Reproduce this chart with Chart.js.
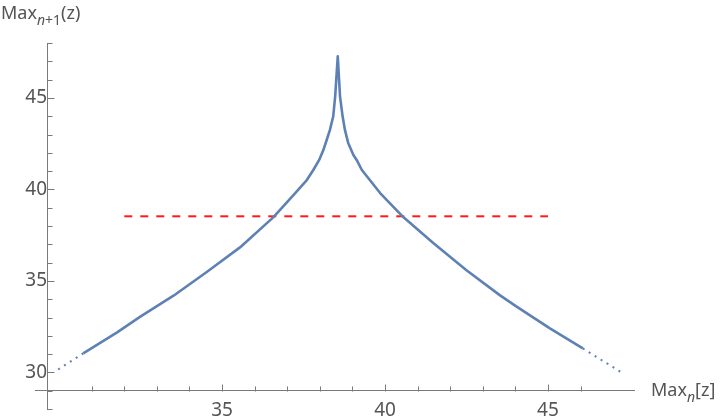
<!DOCTYPE html>
<html>
<head>
<meta charset="utf-8">
<script src="https://cdn.jsdelivr.net/npm/chart.js@4"></script>
<style>
  html, body { margin: 0; padding: 0; background: #fff; }
  canvas { display: block; }
</style>
</head>
<body>
<canvas id="mapChart" width="720" height="420"></canvas>
<script>
// successive maxima of z: Max_n on x, Max_{n+1} on y
const maxN = [29.97, 30.74, 31.78, 32.48, 33.51, 34.53, 35.55, 36.57, 37.19, 37.60, 37.80, 37.98,
  38.11, 38.21, 38.31, 38.41, 38.47, 38.55, 38.62, 38.70, 38.77, 38.87, 39.03, 39.13, 39.29,
  39.85, 40.56, 41.48, 42.50, 43.53, 44.05, 45.06, 46.07, 47.30];
const maxN1 = [30.16, 31.04, 32.19, 33.03, 34.19, 35.49, 36.83, 38.47, 39.69, 40.51, 41.06, 41.61,
  42.16, 42.70, 43.25, 43.98, 45.07, 47.27, 45.07, 43.98, 43.25, 42.54, 41.88, 41.61, 41.06,
  39.80, 38.49, 37.07, 35.58, 34.21, 33.58, 32.41, 31.31, 29.95];

// red dashed level line
const cutX = [32, 45];
const cutY = 38.53;

const xTickLabels = [35, 40, 45];
const yTickLabels = [30, 35, 40, 45];

// where the axes cross
const xAxisAt = 29;
const yAxisAt = 29.63;

const axisGray = '#7a7a7a';
const labelGray = '#555';
const fontFamily = '"Noto Sans", "Open Sans", sans-serif';

const curvePoints = maxN.map((x, i) => ({ x: x, y: maxN1[i] }));
const cutPoints = cutX.map(x => ({ x: x, y: cutY }));
const lastSeg = curvePoints.length - 2;

// axes sit inside the plot, so don't let their label padding shrink it
function noScalePadding(scale) {
  scale.paddingTop = 0;
  scale.paddingBottom = 0;
  scale.paddingLeft = 0;
  scale.paddingRight = 0;
}

// inward ticks + Mathematica style axis labels
const axisDecor = {
  id: 'axisDecor',
  afterDraw(chart) {
    const ctx = chart.ctx;
    const xs = chart.scales.x, ys = chart.scales.y;
    const x0 = Math.round(xs.getPixelForValue(yAxisAt)) + 0.5;
    const y0 = Math.round(ys.getPixelForValue(xAxisAt)) + 0.5;
    ctx.save();
    ctx.strokeStyle = axisGray;
    ctx.lineWidth = 1;
    ctx.beginPath();
    xs.ticks.forEach(t => {
      if (!Number.isInteger(t.value)) return;
      const px = Math.round(xs.getPixelForValue(t.value)) + 0.5;
      const len = t.value % 5 === 0 ? 7 : 5;
      ctx.moveTo(px, y0);
      ctx.lineTo(px, y0 - len);
    });
    ys.ticks.forEach(t => {
      if (!Number.isInteger(t.value)) return;
      const py = Math.round(ys.getPixelForValue(t.value)) + 0.5;
      const len = t.value % 5 === 0 ? 7 : 5;
      ctx.moveTo(x0, py);
      ctx.lineTo(x0 + len, py);
    });
    ctx.stroke();

    ctx.fillStyle = labelGray;
    ctx.textBaseline = 'alphabetic';
    // y axis title: Max_{n+1}(z)
    let tx = 1;
    ctx.font = '18px ' + fontFamily;
    ctx.fillText('Max', tx, 19);
    tx += ctx.measureText('Max').width;
    ctx.font = 'italic 14px ' + fontFamily;
    ctx.fillText('n', tx, 25);
    tx += ctx.measureText('n').width;
    ctx.font = '14px ' + fontFamily;
    ctx.fillText('+1', tx, 25);
    tx += ctx.measureText('+1').width;
    ctx.font = '18px ' + fontFamily;
    ctx.fillText('(z)', tx, 19);

    // x axis title: Max_n[z]
    tx = 651;
    ctx.fillText('Max', tx, 396);
    tx += ctx.measureText('Max').width;
    ctx.font = 'italic 14px ' + fontFamily;
    ctx.fillText('n', tx, 402);
    tx += ctx.measureText('n').width;
    ctx.font = '18px ' + fontFamily;
    ctx.fillText('[z]', tx, 396);
    ctx.restore();
  }
};

new Chart(document.getElementById('mapChart'), {
  type: 'scatter',
  data: {
    datasets: [
      {
        data: curvePoints,
        showLine: true,
        borderColor: '#5e81b5',
        borderWidth: 2.6,
        borderJoinStyle: 'round',
        pointRadius: 0,
        segment: {
          borderDash: c => (c.p0DataIndex === 0 || c.p0DataIndex === lastSeg) ? [2, 5] : undefined,
          borderWidth: c => (c.p0DataIndex === 0 || c.p0DataIndex === lastSeg) ? 2 : undefined
        }
      },
      {
        data: cutPoints,
        showLine: true,
        borderColor: '#ff1a1a',
        borderWidth: 2,
        borderDash: [8, 8],
        pointRadius: 0
      }
    ]
  },
  options: {
    responsive: false,
    animation: false,
    layout: { padding: { left: 35, right: 86, top: 43, bottom: 11 } },
    plugins: { legend: { display: false }, tooltip: { enabled: false } },
    scales: {
      x: {
        type: 'linear',
        min: 29.26,
        max: 47.64,
        position: { y: xAxisAt },
        afterFit: noScalePadding,
        grid: { display: false },
        border: { display: true, color: axisGray, width: 1 },
        ticks: {
          stepSize: 1,
          autoSkip: false,
          maxRotation: 0,
          padding: 0,
          color: labelGray,
          font: { family: fontFamily, size: 19 },
          callback: v => xTickLabels.includes(v) ? String(v) : ''
        }
      },
      y: {
        type: 'linear',
        min: 28,
        max: 48,
        position: { x: yAxisAt },
        afterFit: noScalePadding,
        grid: { display: false },
        border: { display: true, color: axisGray, width: 1 },
        ticks: {
          stepSize: 1,
          autoSkip: false,
          padding: 7,
          color: labelGray,
          font: { family: fontFamily, size: 19 },
          callback: v => yTickLabels.includes(v) ? String(v) : ''
        }
      }
    }
  },
  plugins: [axisDecor]
});
</script>
</body>
</html>
